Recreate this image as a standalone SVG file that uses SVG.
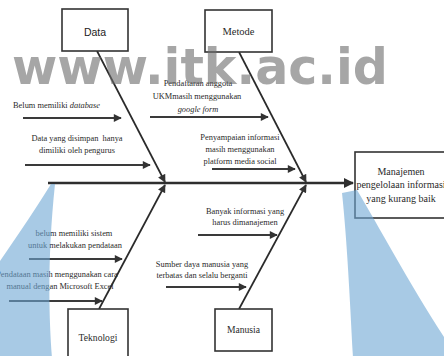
<svg xmlns="http://www.w3.org/2000/svg" width="444" height="356" viewBox="0 0 444 356">
<style>
.box{fill:#fff;stroke:#333;stroke-width:1.6}
.ser{font-family:"Liberation Serif","Times New Roman",serif;fill:#2a2a2a;text-anchor:middle}
.lbl{font-size:8.4px}
.san{font-family:"Liberation Sans",Arial,sans-serif;fill:#222;text-anchor:middle}
.diag{stroke:#2a2a2a;stroke-width:1.7;fill:none}
.cause{stroke:#3a3a3a;stroke-width:1.9;fill:none}
.spine{stroke:#2e2e2e;stroke-width:2.7;fill:none}
.pre{white-space:pre}
</style>
<defs>
<marker id="ah" viewBox="0 0 10 10" refX="9" refY="5" markerWidth="9" markerHeight="8" markerUnits="userSpaceOnUse" orient="auto">
<path d="M0,0 L10,5 L0,10 z" fill="#333"/>
</marker>
<marker id="ahb" viewBox="0 0 10 10" refX="9" refY="5" markerWidth="11" markerHeight="10" markerUnits="userSpaceOnUse" orient="auto">
<path d="M0,0 L10,5 L0,10 z" fill="#2e2e2e"/>
</marker>
</defs>
<rect width="444" height="356" fill="#fff"/>

<g id="connectors">
<line class="spine" x1="48" y1="183" x2="353" y2="183" marker-end="url(#ahb)"/>
<line class="diag" x1="97" y1="51" x2="165" y2="182" marker-end="url(#ah)"/>
<line class="diag" x1="239" y1="52" x2="306" y2="182" marker-end="url(#ah)"/>
<line class="diag" x1="99" y1="309" x2="165" y2="185" marker-end="url(#ah)"/>
<line class="diag" x1="239" y1="309" x2="306" y2="185" marker-end="url(#ah)"/>
<line class="cause" x1="23" y1="118" x2="121" y2="118" marker-end="url(#ah)"/>
<line class="cause" x1="25" y1="165" x2="150" y2="165" marker-end="url(#ah)"/>
<line class="cause" x1="150" y1="117" x2="268" y2="117" marker-end="url(#ah)"/>
<line class="cause" x1="212" y1="169" x2="295" y2="169" marker-end="url(#ah)"/>
<line class="cause" x1="29" y1="259" x2="122" y2="259" marker-end="url(#ah)"/>
<line class="cause" x1="9" y1="301" x2="102" y2="301" marker-end="url(#ah)"/>
<line class="cause" x1="198" y1="235" x2="277" y2="235" marker-end="url(#ah)"/>
<line class="cause" x1="166" y1="287" x2="246" y2="287" marker-end="url(#ah)"/>
</g>

<g id="node-data">
<rect class="box" x="62" y="9" width="66" height="42"/>
<text class="san" x="95" y="36" font-size="10.5">Data</text>
</g>
<g id="node-metode">
<rect class="box" x="205" y="10" width="67" height="42"/>
<text class="ser" x="238.5" y="35" font-size="10.5">Metode</text>
</g>
<g id="node-teknologi">
<rect class="box" x="68" y="309" width="60" height="60"/>
<text class="ser" x="98" y="341" font-size="9.6">Teknologi</text>
</g>
<g id="node-manusia">
<rect class="box" x="215" y="309" width="57" height="42"/>
<text class="ser" x="243.5" y="333" font-size="9.6">Manusia</text>
</g>
<g id="node-effect">
<rect class="box" x="355" y="152" width="100" height="66"/>
<text class="ser" x="401" y="175" font-size="10">Manajemen</text>
<text class="ser" x="401" y="188" font-size="10">pengelolaan informasi</text>
<text class="ser" x="401" y="202" font-size="10">yang kurang baik</text>
</g>

<g id="cause-data-1">
<text class="ser lbl" x="13" y="108" style="text-anchor:start">Belum memiliki <tspan font-style="italic">database</tspan></text>
</g>
<g id="cause-data-2">
<text class="ser lbl pre" x="77" y="141">Data yang disimpan  hanya</text>
<text class="ser lbl" x="77" y="153">dimiliki oleh pengurus</text>
</g>
<g id="cause-metode-1">
<text class="ser lbl" x="198" y="86">Pendaftaran anggota</text>
<text class="ser lbl" x="197" y="99">UKMmasih menggunakan</text>
<text class="ser lbl" x="198" y="112" font-style="italic">google form</text>
</g>
<g id="cause-metode-2">
<text class="ser lbl" x="240" y="140">Penyampaian informasi</text>
<text class="ser lbl" x="240" y="152">masih menggunakan</text>
<text class="ser lbl" x="240" y="164">platform media social</text>
</g>
<g id="cause-teknologi-1">
<text class="ser lbl" x="74" y="236">belum memiliki sistem</text>
<text class="ser lbl" x="75" y="248">untuk melakukan pendataan</text>
</g>
<g id="cause-teknologi-2">
<text class="ser lbl" x="57" y="277">Pendataan masih menggunakan cara</text>
<text class="ser lbl" x="60" y="289">manual dengan Microsoft Excel</text>
</g>
<g id="cause-manusia-1">
<text class="ser lbl" x="245" y="214">Banyak informasi yang</text>
<text class="ser lbl" x="245" y="225">harus dimanajemen</text>
</g>
<g id="cause-manusia-2">
<text class="ser lbl" x="202" y="267">Sumber daya manusia yang</text>
<text class="ser lbl" x="202" y="278">terbatas dan selalu berganti</text>
</g>

<g id="watermark">
<path d="M51,184 C38,205 18,235 -2,264 L-2,358 L52,358 C49,320 47,260 55,184 Z" fill="#6ea6d4" fill-opacity="0.6"/>
<path d="M342,193 L357,190 C378,225 410,285 446,340 L446,358 L353,358 C350,300 347,240 342,193 Z" fill="#6ea6d4" fill-opacity="0.6"/>
<text x="12" y="84" font-family="'DejaVu Sans',Verdana,sans-serif" font-weight="bold" font-size="49" textLength="376" lengthAdjust="spacingAndGlyphs" fill="#6a6a6a" fill-opacity="0.6">www.itk.ac.id</text>
</g>
</svg>
